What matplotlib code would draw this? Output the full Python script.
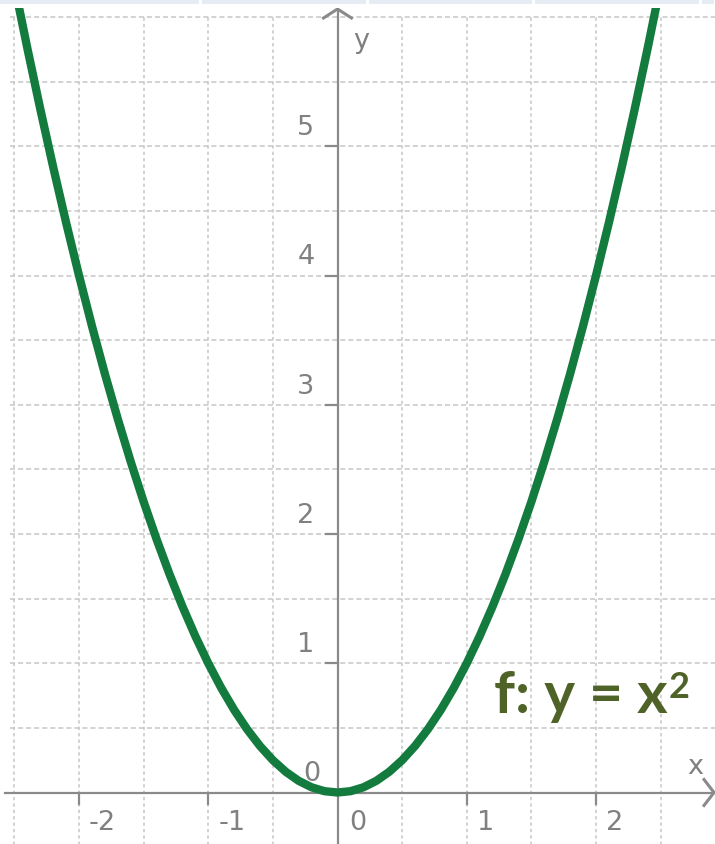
import matplotlib.pyplot as plt
from matplotlib.patches import Rectangle

plt.rcParams['lines.scale_dashes'] = False

# sample points of f: y = x^2
xs = [-2.5, -2.4, -2.3, -2.2, -2.1, -2.0, -1.9, -1.8, -1.7, -1.6, -1.5,
      -1.4, -1.3, -1.2, -1.1, -1.0, -0.9, -0.8, -0.7, -0.6, -0.5,
      -0.4, -0.3, -0.2, -0.1, 0.0, 0.1, 0.2, 0.3, 0.4, 0.5,
      0.6, 0.7, 0.8, 0.9, 1.0, 1.1, 1.2, 1.3, 1.4, 1.5,
      1.6, 1.7, 1.8, 1.9, 2.0, 2.1, 2.2, 2.3, 2.4, 2.5]
ys = [6.25, 5.76, 5.29, 4.84, 4.41, 4.0, 3.61, 3.24, 2.89, 2.56, 2.25,
      1.96, 1.69, 1.44, 1.21, 1.0, 0.81, 0.64, 0.49, 0.36, 0.25,
      0.16, 0.09, 0.04, 0.01, 0.0, 0.01, 0.04, 0.09, 0.16, 0.25,
      0.36, 0.49, 0.64, 0.81, 1.0, 1.21, 1.44, 1.69, 1.96, 2.25,
      2.56, 2.89, 3.24, 3.61, 4.0, 4.41, 4.84, 5.29, 5.76, 6.25]

x_ticks = [-2, -1, 1, 2]
y_ticks = [1, 2, 3, 4, 5]
x_grid = [-2.5, -2.0, -1.5, -1.0, -0.5, 0.5, 1.0, 1.5, 2.0, 2.5]
y_grid = [0.5, 1.0, 1.5, 2.0, 2.5, 3.0, 3.5, 4.0, 4.5, 5.0, 5.5, 6.0]

W, H = 715, 845
X0, Y0, S = 337.5, 793.5, 129.25   # origin in pixels, pixels per unit
TOP = 9                              # top of drawing area in pixels


def px(v):
    return v / S


fig = plt.figure(figsize=(W / 100, H / 100), dpi=100)
ax = fig.add_axes([0, 0, 1, (H - TOP) / H])
ax.set_xlim(-X0 / S, (W - X0) / S)
ax.set_ylim(-(H - Y0) / S, (Y0 - TOP) / S)
ax.axis('off')

grid_c = '#c6c6c6'
x_left = -X0 / S + px(10)
for g in y_grid:
    ax.plot([x_left, 3], [g, g], color=grid_c, lw=1.1, dashes=(3.6, 2.2), zorder=1)
for g in x_grid:
    ax.plot([g, g], [-1, 6.0], color=grid_c, lw=1.1, dashes=(2.4, 2.2), zorder=1)

# axes with open arrow heads
axis_c = '#8a8a8a'
ax.plot([-X0 / S + px(5), (W - X0) / S], [0, 0], color=axis_c, lw=1.6, zorder=2)
ax.plot([0, 0], [-1, (Y0 - 10) / S], color=axis_c, lw=1.6, zorder=2)
tip_y = (Y0 - 10) / S
ax.plot([-px(14), 0, px(14)], [tip_y - px(9), tip_y, tip_y - px(9)],
        color=axis_c, lw=2.2, solid_joinstyle='miter', zorder=2)
tip_x = (W - 1 - X0) / S
ax.plot([tip_x - px(10), tip_x, tip_x - px(10)], [px(13), 0, -px(13)],
        color=axis_c, lw=2.2, solid_joinstyle='miter', zorder=2)

for t in x_ticks:
    ax.plot([t, t], [0, -px(11)], color=axis_c, lw=1.6, zorder=2)
for t in y_ticks:
    ax.plot([-px(12), 0], [t, t], color=axis_c, lw=1.6, zorder=2)

lab = dict(color='#808080', fontsize=19.5, family='DejaVu Sans')
for t in x_ticks:
    ax.text(t + px(10), -px(17), str(t), ha='left', va='top', **lab)
ax.text(px(12), -px(17), '0', ha='left', va='top', **lab)
for t in y_ticks:
    ax.text(-px(23), t + px(6), str(t), ha='right', va='bottom', **lab)
ax.text(-px(17), px(6), '0', ha='right', va='bottom', **lab)
ax.text((687 - X0) / S, px(13), 'x', ha='left', va='bottom', **lab)
ax.text(px(16), (Y0 - 28) / S, 'y', ha='left', va='top', **lab)

ax.plot(xs, ys, color='#127b3d', lw=6, solid_capstyle='butt',
        solid_joinstyle='round', zorder=3)

# function label, exponent placed right after the text
f_c = '#4f6228'
f_txt = ax.text((494 - X0) / S, (Y0 - 713) / S, 'f: y = x', color=f_c,
                fontsize=42, family='Lato', fontweight='bold',
                ha='left', va='baseline', zorder=4)
ax.annotate('2', xy=(1, 1), xycoords=f_txt, xytext=(1, -1),
            textcoords='offset pixels', color=f_c, fontsize=26,
            family='Lato', fontweight='bold', ha='left', va='top', zorder=4)

# light toolbar strip along the top edge
band_c = '#e6ecf3'
edges = [0, 200, 367, 533, 700, W]
for a, b in zip(edges[:-1], edges[1:]):
    x_a = a + 2 if a else 0
    fig.add_artist(Rectangle((x_a / W, 1 - 5 / H), (b - x_a - 1) / W, 5 / H,
                             transform=fig.transFigure, color=band_c, lw=0))

fig.savefig('out.png', dpi=100)
